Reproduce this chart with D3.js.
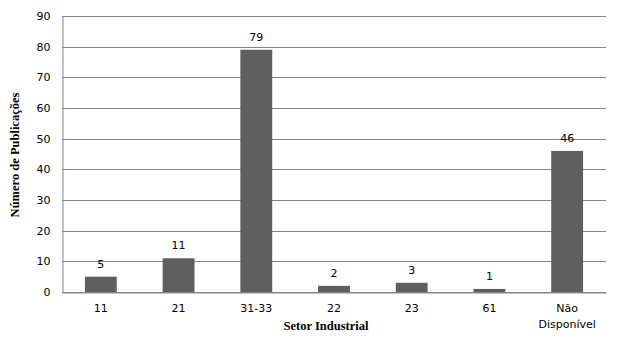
<!DOCTYPE html>
<html>
<head>
<meta charset="utf-8">
<script src="https://cdn.jsdelivr.net/npm/d3@7"></script>
<style>
  body { margin: 0; background: #fff; }
  text { font-family: "DejaVu Sans", Verdana, sans-serif; }
  text.titulo { font-family: "Liberation Serif", "Times New Roman", serif; font-weight: bold; }
</style>
</head>
<body>
<div id="chart"></div>
<script>
// dados
const categorias = ['11', '21', '31-33', '22', '23', '61', 'Não Disponível'];
const publicacoes = [5, 11, 79, 2, 3, 1, 46];
const yTicks = [0, 10, 20, 30, 40, 50, 60, 70, 80, 90];

const W = 624, H = 344;
const m = { top: 16, right: 18, bottom: 52, left: 62 };

const svg = d3.select('#chart').append('svg')
  .attr('width', W).attr('height', H);

const x = d3.scaleBand()
  .domain(categorias)
  .range([m.left, W - m.right])
  .paddingInner(0.59).paddingOuter(0.295);

const y = d3.scaleLinear()
  .domain([0, 90])
  .range([H - m.bottom, m.top]);

// grade horizontal
svg.append('g')
  .selectAll('line')
  .data(yTicks)
  .join('line')
    .attr('x1', m.left).attr('x2', W - m.right)
    .attr('y1', d => Math.round(y(d)) + 0.5).attr('y2', d => Math.round(y(d)) + 0.5)
    .attr('stroke', '#868686');

// eixo y
const yAxis = svg.append('g')
  .attr('transform', `translate(${m.left + 0.5},0)`)
  .call(d3.axisLeft(y).tickValues(yTicks).tickSize(0).tickPadding(12));
yAxis.select('.domain').attr('stroke', '#868686');
yAxis.selectAll('text').attr('font-size', 11).attr('fill', '#000');

// barras
svg.append('g')
  .selectAll('rect')
  .data(publicacoes)
  .join('rect')
    .attr('x', (d, i) => x(categorias[i]))
    .attr('y', d => y(d))
    .attr('width', x.bandwidth())
    .attr('height', d => y(0) - y(d))
    .attr('fill', '#5f5f5f');

// rótulos de valor
svg.append('g')
  .selectAll('text')
  .data(publicacoes)
  .join('text')
    .attr('x', (d, i) => x(categorias[i]) + x.bandwidth() / 2)
    .attr('y', d => y(d) - 9)
    .attr('text-anchor', 'middle')
    .attr('font-size', 11)
    .attr('fill', '#000')
    .text(d => d);

// eixo x
const xAxis = svg.append('g')
  .attr('transform', `translate(0,${Math.round(y(0)) + 0.5})`)
  .call(d3.axisBottom(x).tickSize(0).tickPadding(12));
xAxis.select('.domain').attr('stroke', '#868686');
xAxis.selectAll('text').attr('font-size', 11).attr('fill', '#000')
  .each(function(d) {
    const parts = d.split(' ');
    if (parts.length > 1) {
      const t = d3.select(this).text(null);
      parts.forEach((p, k) => t.append('tspan')
        .attr('x', 0).attr('dy', k === 0 ? '0.71em' : '1.45em').text(p));
    }
  });

// títulos dos eixos
svg.append('text')
  .attr('class', 'titulo')
  .attr('x', 326).attr('y', 330)
  .attr('text-anchor', 'middle')
  .attr('font-size', 12.5)
  .text('Setor Industrial');

svg.append('text')
  .attr('class', 'titulo')
  .attr('transform', 'translate(19,155) rotate(-90)')
  .attr('text-anchor', 'middle')
  .attr('font-size', 12.5)
  .text('Número de Publicações');
</script>
</body>
</html>
